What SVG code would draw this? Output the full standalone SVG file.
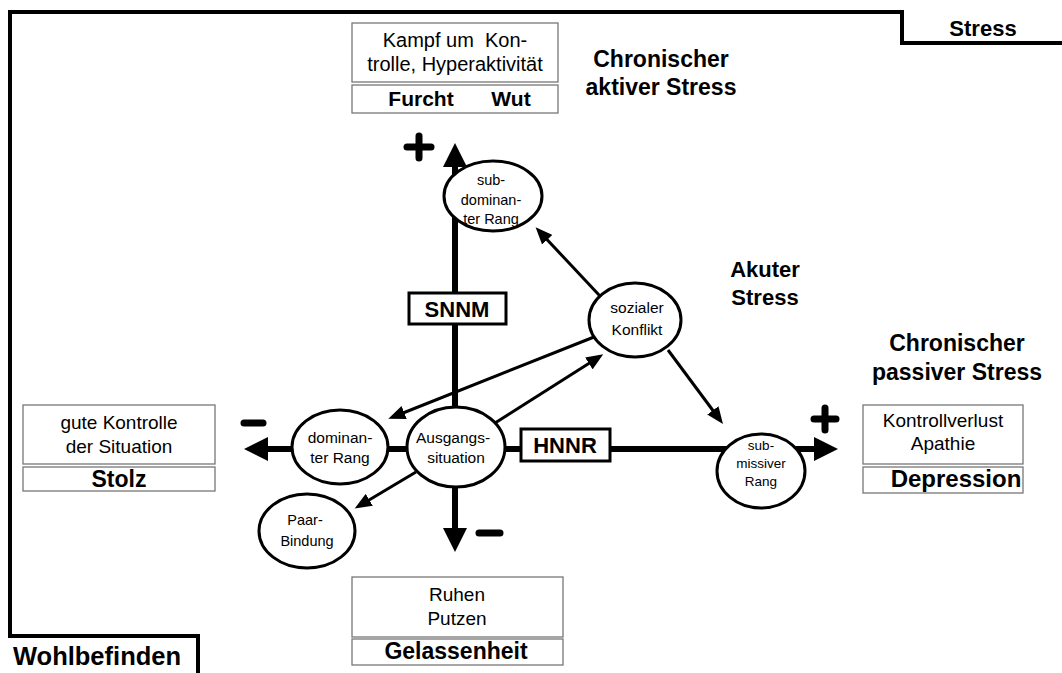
<svg xmlns="http://www.w3.org/2000/svg" width="1062" height="673" viewBox="0 0 1062 673">
<style>
text{font-family:"Liberation Sans",Arial,sans-serif;fill:#000;text-anchor:middle}
.reg{font-size:19px}
.bold{font-weight:bold;font-size:23px}
.lbl{font-weight:bold;font-size:22px}
.el{font-size:15.5px}
.els{font-size:14.5px}
.elx{font-size:13.5px}
.box{fill:#fff;stroke:#777;stroke-width:1.3}
.node{fill:#fff;stroke:#000;stroke-width:3}
.axis{stroke:#000;stroke-width:6;fill:none}
.arr{stroke:#000;stroke-width:3;fill:none}
.frame{stroke:#000;stroke-width:4;fill:none}
.sign{stroke:#000;stroke-width:7;stroke-linecap:round}
.nbox{fill:#fff;stroke:#000;stroke-width:3}
</style>
<defs>
<marker id="big" markerWidth="24" markerHeight="24" refX="0" refY="12" orient="auto-start-reverse" markerUnits="userSpaceOnUse"><path d="M0,0 L24,12 L0,24 z" fill="#000"/></marker>
<marker id="sm" markerWidth="18" markerHeight="14" refX="12" refY="7" orient="auto" markerUnits="userSpaceOnUse"><path d="M0,0 L17,7 L0,14 z" fill="#000"/></marker>
</defs>
<rect width="1062" height="673" fill="#fff"/>
<path class="frame" d="M1062,43 H902 V12 H10 V636 H198 V673"/>
<g id="stress-label"><text class="lbl" x="983" y="36">Stress</text></g>
<g id="wohlbefinden-label"><text class="bold" x="97" y="665" style="font-size:25.5px">Wohlbefinden</text></g>

<g id="top-box">
<rect class="box" x="352" y="23" width="206" height="59"/>
<rect class="box" x="352" y="85" width="206" height="28"/>
<text class="reg" x="455" y="47" style="white-space:pre;font-size:20px">Kampf um  Kon-</text>
<text class="reg" x="455" y="71" style="font-size:20px">trolle, Hyperaktivität</text>
<text class="bold" x="421" y="106" style="font-size:21px">Furcht</text>
<text class="bold" x="511" y="106" style="font-size:21px">Wut</text>
</g>
<g id="left-box">
<rect class="box" x="23" y="405" width="192" height="59"/>
<rect class="box" x="23" y="467" width="192" height="24"/>
<text class="reg" x="119" y="429">gute Kontrolle</text>
<text class="reg" x="119" y="453">der Situation</text>
<text class="bold" x="119" y="487">Stolz</text>
</g>
<g id="right-box">
<rect class="box" x="863" y="405" width="160" height="59"/>
<rect class="box" x="863" y="467" width="160" height="26"/>
<text class="reg" x="943" y="427">Kontrollverlust</text>
<text class="reg" x="943" y="450">Apathie</text>
<text class="bold" x="956" y="487" style="font-size:24px">Depression</text>
</g>
<g id="bottom-box">
<rect class="box" x="352" y="577" width="211" height="60"/>
<rect class="box" x="352" y="639" width="211" height="26"/>
<text class="reg" x="457" y="601">Ruhen</text>
<text class="reg" x="457" y="625">Putzen</text>
<text class="bold" x="456" y="659">Gelassenheit</text>
</g>

<g id="label-chron-aktiv"><text class="bold" x="661" y="67">Chronischer</text><text class="bold" x="661" y="95">aktiver Stress</text></g>
<g id="label-akut"><text class="lbl" x="765" y="277">Akuter</text><text class="lbl" x="765" y="305">Stress</text></g>
<g id="label-chron-passiv"><text class="bold" x="957" y="351">Chronischer</text><text class="bold" x="957" y="380">passiver Stress</text></g>

<g id="connectors">
<line class="axis" x1="455" y1="528" x2="455" y2="167" marker-start="url(#big)" marker-end="url(#big)"/>
<line class="axis" x1="268" y1="449" x2="814" y2="449" marker-start="url(#big)" marker-end="url(#big)"/>
<line class="arr" x1="600" y1="296" x2="539" y2="231" marker-end="url(#sm)"/>
<line class="arr" x1="668" y1="350" x2="720" y2="420" marker-end="url(#sm)"/>
<line class="arr" x1="594" y1="337" x2="393" y2="417" marker-end="url(#sm)"/>
<line class="arr" x1="495" y1="423" x2="599" y2="357" marker-end="url(#sm)"/>
<line class="arr" x1="416" y1="472" x2="359" y2="506" marker-end="url(#sm)"/>
</g>

<g id="signs">
<line class="sign" x1="407" y1="147" x2="431" y2="147"/><line class="sign" x1="419" y1="136" x2="419" y2="158"/>
<line class="sign" x1="244" y1="423" x2="263" y2="423"/>
<line class="sign" x1="814" y1="419" x2="836" y2="419"/><line class="sign" x1="825" y1="408" x2="825" y2="430"/>
<line class="sign" x1="479" y1="533" x2="500" y2="533"/>
</g>

<g id="node-subdominant"><ellipse class="node" cx="493" cy="196" rx="49" ry="35"/>
<text class="els" x="491" y="185">sub-</text><text class="els" x="491" y="205">dominan-</text><text class="els" x="491" y="224">ter Rang</text></g>
<g id="node-sozial"><ellipse class="node" cx="635" cy="320" rx="46" ry="37"/>
<text class="el" x="637" y="313">sozialer</text><text class="el" x="637" y="335">Konflikt</text></g>
<g id="node-dominant"><ellipse class="node" cx="340" cy="447" rx="48" ry="37"/>
<text class="el" x="340" y="443">dominan-</text><text class="el" x="340" y="463">ter Rang</text></g>
<g id="node-ausgang"><ellipse class="node" cx="456" cy="447" rx="49" ry="40"/>
<text class="el" x="453" y="443">Ausgangs-</text><text class="el" x="456" y="463">situation</text></g>
<g id="node-submissiv"><ellipse class="node" cx="761" cy="471" rx="44" ry="37"/>
<text class="elx" x="761" y="450">sub-</text><text class="elx" x="761" y="468">missiver</text><text class="elx" x="761" y="486">Rang</text></g>
<g id="node-paar"><ellipse class="node" cx="307" cy="531" rx="48" ry="37"/>
<text class="els" x="305" y="525">Paar-</text><text class="els" x="307" y="546">Bindung</text></g>

<g id="snnm"><rect class="nbox" x="409" y="293" width="97" height="31"/><text class="lbl" x="457" y="317">SNNM</text></g>
<g id="hnnr"><rect class="nbox" x="521" y="429" width="89" height="32"/><text class="lbl" x="565" y="453">HNNR</text></g>
</svg>
